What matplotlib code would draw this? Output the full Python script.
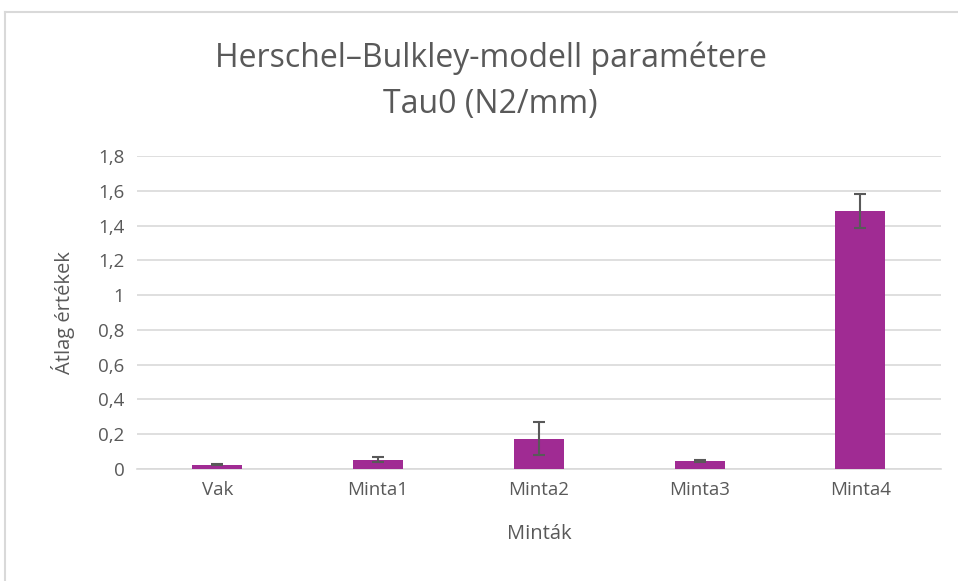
import matplotlib.pyplot as plt
from matplotlib.lines import Line2D

# Data
samples = ['Vak', 'Minta1', 'Minta2', 'Minta3', 'Minta4']
means = [0.025, 0.052, 0.172, 0.047, 1.485]
errors = [0.005, 0.014, 0.095, 0.006, 0.097]
yticks = [0, 0.2, 0.4, 0.6, 0.8, 1, 1.2, 1.4, 1.6, 1.8]

plt.rcParams['font.family'] = ['Open Sans', 'DejaVu Sans']
txt = '#595959'
grid = '#D9D9D9'

fig = plt.figure(figsize=(9.58, 5.81), dpi=100)
ax = fig.add_axes([0.143, 0.193, 0.839, 0.5385])

# outer chart border (top and left edges are visible in the reference)
top = 1 - 12 / 581
left = 5 / 958
fig.add_artist(Line2D([left, 1.0], [top, top], transform=fig.transFigure,
                      color=grid, linewidth=1.5))
fig.add_artist(Line2D([left, left], [0, top], transform=fig.transFigure,
                      color=grid, linewidth=1.5))

x = range(len(samples))
ax.bar(x, means, width=0.31, color='#A02B93', zorder=3)
ax.errorbar(x, means, yerr=errors, fmt='none', ecolor=txt,
            elinewidth=1.5, capsize=4.5, capthick=1.5, zorder=4)

ax.set_xlim(-0.5, len(samples) - 0.5)
ax.set_ylim(0, 1.8)
ax.set_yticks(yticks)
ax.set_yticklabels([f'{v:g}'.replace('.', ',') for v in yticks])
ax.set_xticks(list(x))
ax.set_xticklabels(samples)
ax.yaxis.grid(True, color=grid, linewidth=1.2, zorder=0)
ax.tick_params(length=0, labelsize=13.5, colors=txt, pad=9)
for s in ['top', 'right', 'left']:
    ax.spines[s].set_visible(False)
ax.spines['bottom'].set_color(grid)
ax.spines['bottom'].set_linewidth(1.2)

ax.set_xlabel('Minták', fontsize=14.5, color=txt, labelpad=18)
ax.set_ylabel('Átlag értékek', fontsize=14.5, color=txt, labelpad=17)
fig.text(0.512, 0.860, 'Herschel–Bulkley-modell paramétere\nTau0 (N2/mm)',
         ha='center', va='center', fontsize=23, color=txt, linespacing=1.5)

plt.savefig('out.png', dpi=100)
